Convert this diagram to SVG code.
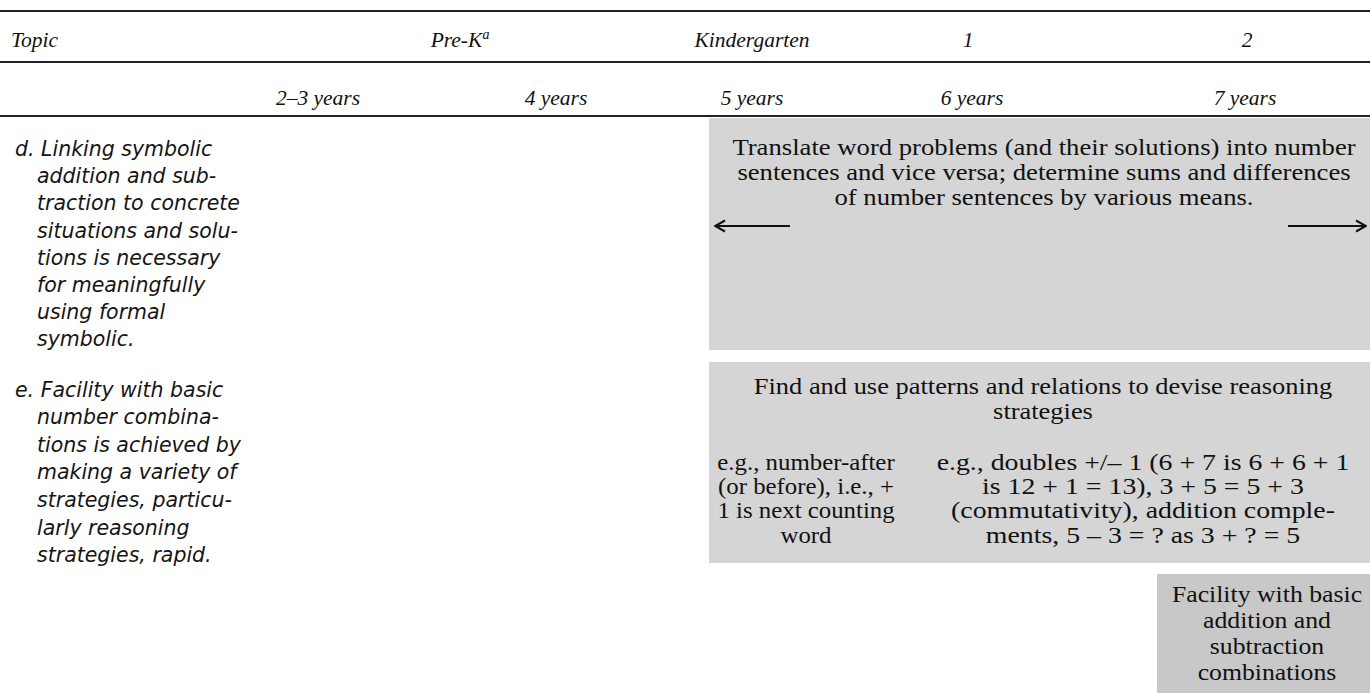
<svg xmlns="http://www.w3.org/2000/svg" width="1370" height="693" viewBox="0 0 1370 693">
  <style>
    .rule { stroke: #222; stroke-width: 2; fill: none; }
    .head { font-family: "Liberation Serif", serif; font-style: italic; font-size: 21.5px; fill: #111; text-anchor: middle; }
    .topic { font-family: "DejaVu Sans", sans-serif; font-style: italic; font-size: 20.5px; fill: #151515; }
    .band { fill: #d5d5d5; }
    .band-dark { fill: #c8c8c8; }
    .body { font-family: "Liberation Serif", serif; font-size: 23px; fill: #111; text-anchor: middle; }
    .arrow { stroke: #111; stroke-width: 2; fill: none; }
  </style>
  <defs>
    <marker id="open-head" viewBox="0 0 14 14" refX="13" refY="7" markerWidth="14" markerHeight="14" markerUnits="userSpaceOnUse" orient="auto">
      <polyline points="3,1.5 13,7 3,12.5" fill="none" stroke="#111" stroke-width="2"/>
    </marker>
  </defs>

  <rect width="1370" height="693" fill="#ffffff"/>

  <!-- table rules -->
  <g id="rules">
    <line class="rule" x1="0" y1="11" x2="1370" y2="11"/>
    <line class="rule" x1="0" y1="62" x2="1370" y2="62"/>
    <line class="rule" x1="0" y1="116" x2="1370" y2="116"/>
  </g>

  <!-- header rows -->
  <g id="header">
    <text class="head" x="11" y="47" style="text-anchor:start">Topic</text>
    <text class="head" x="460" y="47">Pre-K<tspan font-size="14" dy="-8">a</tspan></text>
    <text class="head" x="752" y="47">Kindergarten</text>
    <text class="head" x="968" y="47">1</text>
    <text class="head" x="1247" y="47">2</text>
    <text class="head" x="318" y="105">2–3 years</text>
    <text class="head" x="556" y="105">4 years</text>
    <text class="head" x="752" y="105">5 years</text>
    <text class="head" x="972" y="105">6 years</text>
    <text class="head" x="1245" y="105">7 years</text>
  </g>

  <!-- topic d -->
  <g id="topic-d" class="topic">
    <text x="15" y="156">d. Linking symbolic</text>
    <text x="37" y="183">addition and sub-</text>
    <text x="37" y="210">traction to concrete</text>
    <text x="37" y="238">situations and solu-</text>
    <text x="37" y="265">tions is necessary</text>
    <text x="37" y="292">for meaningfully</text>
    <text x="37" y="319">using formal</text>
    <text x="37" y="346">symbolic.</text>
  </g>

  <!-- topic e -->
  <g id="topic-e" class="topic">
    <text x="15" y="397">e. Facility with basic</text>
    <text x="37" y="424">number combina-</text>
    <text x="37" y="452">tions is achieved by</text>
    <text x="37" y="479">making a variety of</text>
    <text x="37" y="507">strategies, particu-</text>
    <text x="37" y="535">larly reasoning</text>
    <text x="37" y="562">strategies, rapid.</text>
  </g>

  <!-- band: word problems to number sentences -->
  <g id="translate">
    <rect class="band" x="709" y="118" width="661" height="232"/>
    <g transform="translate(1044 0) scale(1.16 1)">
      <text class="body" x="0" y="155">Translate word problems (and their solutions) into number</text>
      <text class="body" x="0" y="180">sentences and vice versa; determine sums and differences</text>
      <text class="body" x="0" y="205">of number sentences by various means.</text>
    </g>
  </g>

  <!-- band: reasoning strategies -->
  <g id="strategies">
    <rect class="band" x="709" y="362" width="661" height="201"/>
    <g transform="translate(1043 0) scale(1.15 1)">
      <text class="body" x="0" y="394">Find and use patterns and relations to devise reasoning</text>
      <text class="body" x="0" y="419">strategies</text>
    </g>
    <g transform="translate(806 0) scale(1.08 1)">
      <text class="body" x="0" y="470">e.g., number-after</text>
      <text class="body" x="0" y="494">(or before), i.e., +</text>
      <text class="body" x="0" y="518">1 is next counting</text>
      <text class="body" x="0" y="543">word</text>
    </g>
    <g transform="translate(1143 0) scale(1.21 1)">
      <text class="body" x="0" y="470">e.g., doubles +/– 1 (6 + 7 is 6 + 6 + 1</text>
      <text class="body" x="0" y="494">is 12 + 1 = 13), 3 + 5 = 5 + 3</text>
      <text class="body" x="0" y="518">(commutativity), addition comple-</text>
      <text class="body" x="0" y="543">ments, 5 – 3 = ? as 3 + ? = 5</text>
    </g>
  </g>

  <!-- band: facility with combinations -->
  <g id="facility">
    <rect class="band-dark" x="1157" y="574" width="213" height="119"/>
    <g transform="translate(1267 0) scale(1.12 1)">
      <text class="body" x="0" y="602">Facility with basic</text>
      <text class="body" x="0" y="628">addition and</text>
      <text class="body" x="0" y="654">subtraction</text>
      <text class="body" x="0" y="680">combinations</text>
    </g>
  </g>

  <!-- connectors: span arrows -->
  <g id="connectors">
    <line class="arrow" x1="790" y1="226" x2="715" y2="226" marker-end="url(#open-head)"/>
    <line class="arrow" x1="1288" y1="226" x2="1366" y2="226" marker-end="url(#open-head)"/>
  </g>
</svg>
